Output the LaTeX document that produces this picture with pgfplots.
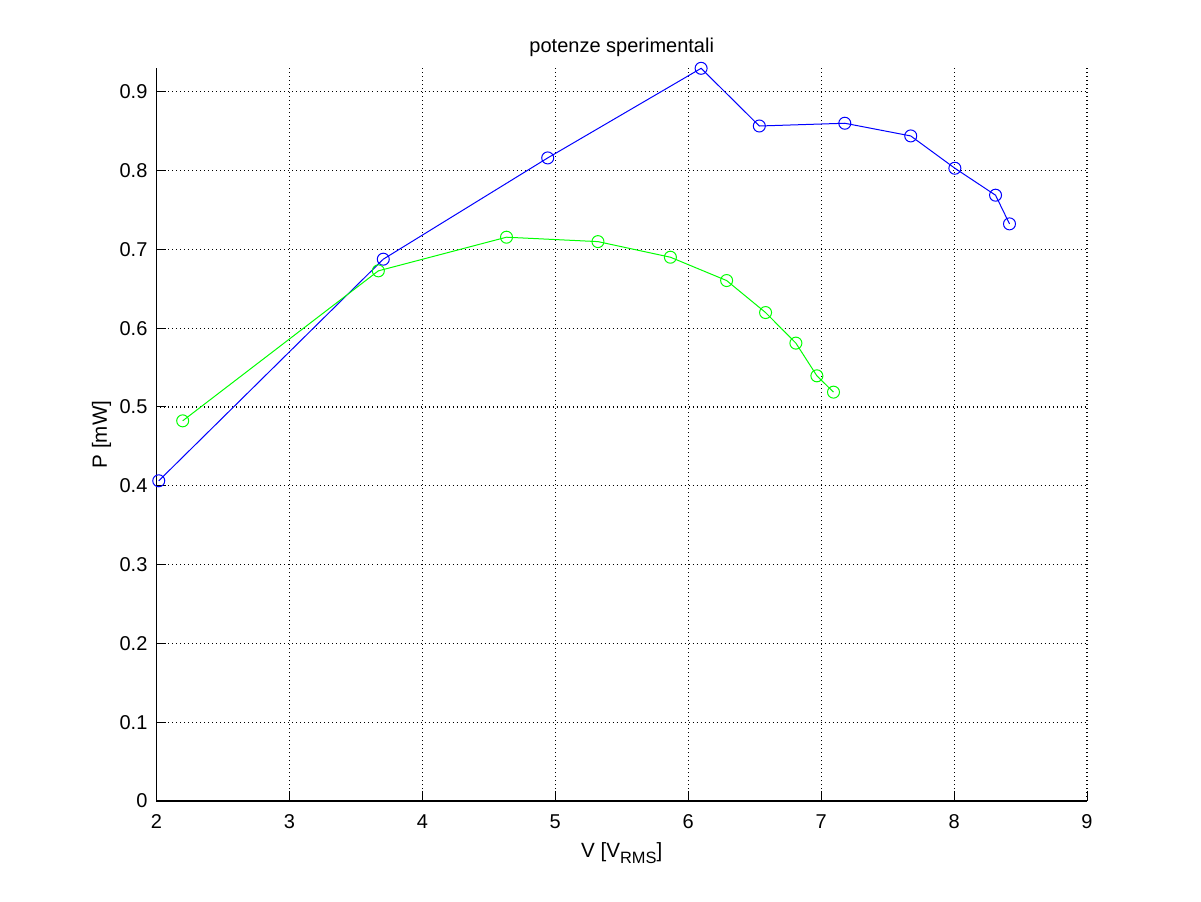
\documentclass[border=0pt]{standalone}
\usepackage{fontspec}
\setmainfont{Liberation Sans}
\usepackage{pgfplots}
\pgfplotsset{compat=1.18}
\definecolor{mblue}{RGB}{0,0,255}
\definecolor{mgreen}{RGB}{0,255,0}
\begin{document}
\begin{tikzpicture}
\useasboundingbox (-78.25pt,-50pt) rectangle (522.25pt,400.5pt);
\begin{axis}[
  scale only axis,
  width=465.25pt, height=366.5pt,
  xmin=2, xmax=9, ymin=0, ymax=0.9301,
  xtick={2,3,4,5,6,7,8,9},
  ytick={0,0.1,0.2,0.3,0.4,0.5,0.6,0.7,0.8,0.9},
  yticklabels={0,0.1,0.2,0.3,0.4,0.5,0.6,0.7,0.8,0.9},
  axis x line=bottom, axis y line=left,
  axis line style={-, line width=0.6pt, black},
  tick align=inside,
  major tick length=5pt,
  tick style={black, line width=0.5pt},
  grid=major,
  major grid style={black, line width=0.55pt, dash pattern=on 0.5pt off 1.5pt},
  /pgf/number format/assume math mode=true,
  tick label style={font=\fontsize{10}{12}\selectfont},
  xticklabel style={anchor=base, yshift=-13.5pt},
  yticklabel style={anchor=east, xshift=-1pt},
  title={potenze sperimentali},
  every axis title shift=0pt,
  title style={at={(axis description cs:0.5,1.0218)}, anchor=base, font=\fontsize{10}{12}\selectfont},
  xlabel={V [V\raisebox{-3.3pt}{\fontsize{8.2}{9}\selectfont RMS}]},
  xlabel style={at={(axis description cs:0.5,-0.0764)}, anchor=base, font=\fontsize{10.3}{12}\selectfont},
  ylabel={P [mW]},
  ylabel style={at={(axis description cs:-0.0532,0.5)}, anchor=base, rotate=0, font=\fontsize{10.3}{12}\selectfont},
  clip=false,
]
\addplot[mblue, line width=0.5pt, mark=o, mark size=3pt, mark options={solid, line width=0.5pt}] coordinates {
(2.017,0.4063) (3.706,0.6875) (4.943,0.8160) (6.097,0.9297) (6.535,0.8565)
(7.178,0.8600) (7.674,0.8439) (8.006,0.8029) (8.312,0.7687) (8.417,0.7323)
};
\addplot[mgreen, line width=0.5pt, mark=o, mark size=3pt, mark options={solid, line width=0.5pt}] coordinates {
(2.197,0.4824) (3.669,0.6727) (4.633,0.7154) (5.321,0.7098) (5.866,0.6900)
(6.289,0.6604) (6.582,0.6198) (6.810,0.5810) (6.968,0.5395) (7.093,0.5188)
};
\end{axis}
\end{tikzpicture}
\end{document}
